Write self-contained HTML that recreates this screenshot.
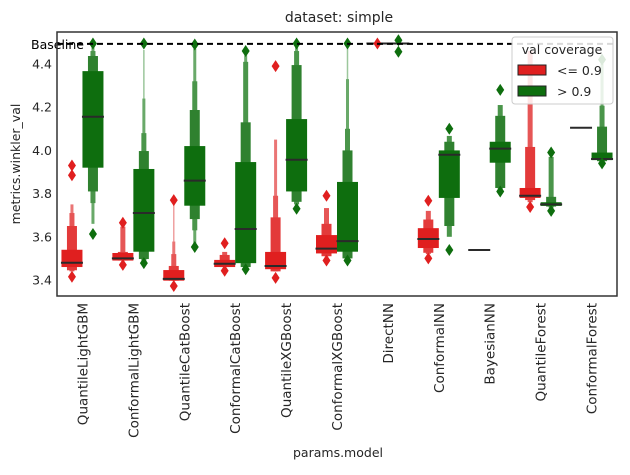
<!DOCTYPE html>
<html><head><meta charset="utf-8"><style>
body{margin:0;background:#fff;font-family:"Liberation Sans","DejaVu Sans",sans-serif}
svg text{font-family:"DejaVu Sans","Liberation Sans",sans-serif;fill:#262626}
</style></head><body>
<svg id="chart" width="630" height="470">
<text x="339" y="22" text-anchor="middle" font-size="14">dataset: simple</text>
<text x="338" y="457" text-anchor="middle" font-size="12.5">params.model</text>
<text transform="translate(20,164) rotate(-90)" text-anchor="middle" font-size="12.5">metrics.winkler_val</text>
<g id="plot"></g>
</svg>
<script>
const categories=["QuantileLightGBM","ConformalLightGBM","QuantileCatBoost","ConformalCatBoost","QuantileXGBoost","ConformalXGBoost","DirectNN","ConformalNN","BayesianNN","QuantileForest","ConformalForest"];
const yTicks=[3.4,3.6,3.8,4.0,4.2,4.4];
const baseline=4.493;
// letter-value levels [lo,hi] inner->outer
const redLevels=[
[[3.46,3.54],[3.445,3.65],[3.44,3.71],[3.44,3.75]],
[[3.49,3.525],[3.49,3.53],[3.49,3.647]],
[[3.397,3.446],[3.397,3.465],[3.397,3.52],[3.397,3.578],[3.397,3.76]],
[[3.46,3.493],[3.46,3.516],[3.46,3.53]],
[[3.45,3.53],[3.44,3.69],[3.44,3.79],[3.44,4.05]],
[[3.523,3.608],[3.51,3.66],[3.51,3.733]],
[],
[[3.548,3.64],[3.526,3.68],[3.52,3.72]],
[],
[[3.78,3.826],[3.77,4.016],[3.76,4.46]],
[]];
const redMedians=[3.48,3.50,3.405,3.475,3.465,3.545,4.495,3.59,3.539,3.79,4.105];
const redOutliers=[[3.93,3.885,3.415],[3.665,3.47],[3.77,3.372],[3.57,3.443],[4.39,3.41],[3.79,3.49],[4.495],[3.767,3.5],[],[3.738],[]];
const greenLevels=[
[[3.92,4.367],[3.81,4.437],[3.756,4.46],[3.66,4.48]],
[[3.531,3.914],[3.497,3.997],[3.49,4.08],[3.49,4.24],[3.49,4.465]],
[[3.744,4.02],[3.682,4.187],[3.63,4.32],[3.57,4.47]],
[[3.478,3.946],[3.46,4.13],[3.46,4.41],[3.46,4.44]],
[[3.81,4.145],[3.762,4.395],[3.75,4.46],[3.74,4.48]],
[[3.531,3.854],[3.5,4.0],[3.5,4.1],[3.5,4.33],[3.5,4.48]],
[],
[[3.78,4.0],[3.65,4.04],[3.6,4.067]],
[[3.943,4.04],[3.826,4.16],[3.82,4.21]],
[[3.743,3.76],[3.74,3.785],[3.735,3.97]],
[[3.955,3.99],[3.95,4.11],[3.95,4.207],[3.95,4.4]]];
const greenMedians=[4.156,3.71,3.86,3.636,3.957,3.58,4.495,3.98,4.008,3.75,3.96];
const greenOutliers=[[4.495,3.613],[4.495,3.478],[4.49,3.553],[4.46,3.45],[4.495,3.73],[4.495,3.49],[4.51,4.457],[4.1,3.539],[4.28,3.81],[3.99,3.72],[4.42,3.94]];

const L=57,R=617,T=32,B=296;
const y=v=>280-(v-3.4)*216;
const xc=i=>L+(R-L)/categories.length*(i+0.5);
const NS="http://www.w3.org/2000/svg";
const g=document.getElementById("plot");
function mk(t,a,p){const e=document.createElementNS(NS,t);for(const k in a)e.setAttribute(k,a[k]);(p||g).appendChild(e);return e;}
const widths=[21,10,5,3,1.5];
const redCols=["#e01f1f","#e33a3a","#e65656","#ea7575","#efa0a0"];
const grnCols=["#0e6e0e","#2f812f","#4a954a","#69a969","#9cc79c"];
mk("rect",{x:L,y:T,width:R-L,height:B-T,fill:"#fff",stroke:"none"});
yTicks.forEach(t=>{const e=mk("text",{x:L-5,y:y(t)+4.5,"text-anchor":"end","font-size":"12.5"});e.textContent=t.toFixed(1);

});
function diamond(cx,cy,col){const e=mk("path",{d:`M${cx} ${cy-6}L${cx+4} ${cy}L${cx} ${cy+6}L${cx-4} ${cy}Z`,fill:col});

}
function series(levels,meds,outs,off,cols,dark,name){
 categories.forEach((c,i)=>{const cx=xc(i)+off;
  const lv=levels[i];
  for(let k=lv.length-1;k>=0;k--){const w=widths[Math.min(k,4)];
   const r=mk("rect",{x:cx-w/2,y:y(lv[k][1]),width:w,height:y(lv[k][0])-y(lv[k][1]),fill:cols[Math.min(k,4)]});
   
   }
  const m=mk("line",{x1:cx-11,x2:cx+11,y1:y(meds[i]),y2:y(meds[i]),stroke:"#2a2a2a","stroke-width":"2"});
  
  
  outs[i].forEach(v=>diamond(cx,y(v),dark));
 });}
series(redLevels,redMedians,redOutliers,-10.5,redCols,"#e01f1f","red");
series(greenLevels,greenMedians,greenOutliers,10.5,grnCols,"#0e6e0e","green");
const bl=mk("line",{x1:L,x2:R,y1:y(baseline),y2:y(baseline),stroke:"#000","stroke-width":"2","stroke-dasharray":"6,4"});


const bt=mk("text",{x:31,y:y(baseline)+5,"font-size":"12.5",style:"fill:#000"});bt.textContent="Baseline";


categories.forEach((c,i)=>{const t=mk("text",{transform:`translate(${xc(i)+5},303) rotate(-90)`,"text-anchor":"end","font-size":"13.5"});t.textContent=c;

});
mk("rect",{x:L,y:T,width:R-L,height:B-T,fill:"none",stroke:"#333","stroke-width":"1.5"});
const lg=mk("g",{});


mk("rect",{x:512,y:37,width:101,height:67,rx:3,fill:"#fff","fill-opacity":"0.85",stroke:"#ccc"},lg);
const lt=mk("text",{x:562,y:54,"text-anchor":"middle","font-size":"12.5"},lg);lt.textContent="val coverage";
[["<= 0.9","#e01f1f",65],["> 0.9","#0e6e0e",86]].forEach(([s,c,yy])=>{
 const r=mk("rect",{x:518,y:yy,width:28,height:10,fill:c,stroke:"#222"},lg);
 
 
 const t=mk("text",{x:557,y:yy+10,"font-size":"12.5"},lg);t.textContent=s;
 
 });
</script>
</body></html>
